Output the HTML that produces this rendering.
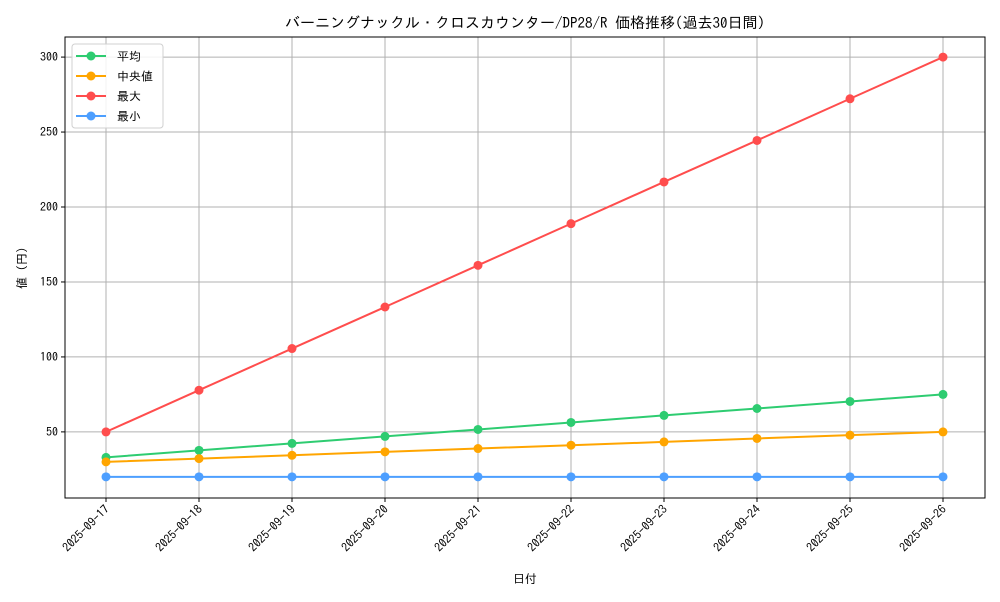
<!DOCTYPE html>
<html><head><meta charset="utf-8"><style>
body{margin:0;background:#fff;font-family:"IPAGothic","Liberation Sans","Noto Sans CJK JP",sans-serif}
svg text{font-family:"IPAGothic","Noto Sans CJK JP",sans-serif;fill:#000}
</style></head><body>
<svg id="chart" width="1000" height="600" xmlns="http://www.w3.org/2000/svg"></svg>
<script>
const dates=["2025-09-17","2025-09-18","2025-09-19","2025-09-20","2025-09-21","2025-09-22","2025-09-23","2025-09-24","2025-09-25","2025-09-26"];
const avgVals=[33,37.7,42.3,47,51.6,56.3,61,65.6,70.3,75];
const medVals=[30,32.2,34.4,36.7,38.9,41.1,43.3,45.6,47.8,50];
const maxVals=[50,77.8,105.6,133.3,161.1,188.9,216.7,244.4,272.2,300];
const minVals=[20,20,20,20,20,20,20,20,20,20];
const yTicks=[50,100,150,200,250,300];
const seriesNames=["平均","中央値","最大","最小"];
const svg=document.getElementById('chart');
const NS="http://www.w3.org/2000/svg";
const L=65,R=985,T=37,B=498;
const yMin=5.9,yMax=313.4;
function x(i){return 106+i*(943-106)/(dates.length-1);}
function y(v){return B-(v-yMin)/(yMax-yMin)*(B-T);}
function mk(tag,attrs,parent){const e=document.createElementNS(NS,tag);for(const k in attrs)e.setAttribute(k,attrs[k]);(parent||svg).appendChild(e);return e;}
// grid
dates.forEach((d,i)=>{
 const g=mk('line',{x1:x(i),x2:x(i),y1:T,y2:B,stroke:'#b0b0b0','stroke-width':1});
 
 
 mk('line',{x1:x(i),x2:x(i),y1:B,y2:B+4,stroke:'#000'});
 const t=mk('text',{x:0,y:0,'font-size':12,'text-anchor':'end',transform:`translate(${x(i)+4},${B+12}) rotate(-45)`});
 t.textContent=d;
 
 
});
yTicks.forEach(v=>{
 const g=mk('line',{x1:L,x2:R,y1:y(v),y2:y(v),stroke:'#b0b0b0','stroke-width':1});
 
 
 mk('line',{x1:L-4,x2:L,y1:y(v),y2:y(v),stroke:'#000'});
 const t=mk('text',{x:L-7,y:y(v)+4,'font-size':12,'text-anchor':'end'});
 t.textContent=v;
 
 
});
const frame=mk('rect',{x:L,y:T,width:R-L,height:B-T,fill:'none',stroke:'#000','stroke-width':1});


const colors=['#2ecc71','#ffa500','#ff4d4d','#4d9fff'];
const data=[avgVals,medVals,maxVals,minVals];
const keys=['avg','median','max','min'];
data.forEach((vals,s)=>{
 const p=mk('polyline',{points:vals.map((v,i)=>x(i)+','+y(v)).join(' '),fill:'none',stroke:colors[s],'stroke-width':2});
 
 
 vals.forEach((v,i)=>{
  const c=mk('circle',{cx:x(i),cy:y(v),r:4.5,fill:colors[s]});
  
  
 });
});
// legend
const lg=mk('g',{});


mk('rect',{x:72,y:44,width:91,height:84,rx:3,fill:'#fff','fill-opacity':0.85,stroke:'#d0d0d0'},lg);
seriesNames.forEach((n,s)=>{
 const yy=56+s*20;
 const e=mk('g',{},lg);
 
 
 mk('line',{x1:76,x2:106,y1:yy,y2:yy,stroke:colors[s],'stroke-width':2},e);
 mk('circle',{cx:91,cy:yy,r:4.5,fill:colors[s]},e);
 const t=mk('text',{x:117,y:yy+4.5,'font-size':12},e);
 t.textContent=n;
});
const title=mk('text',{x:525,y:28,'font-size':15,'text-anchor':'middle'});
title.textContent='バーニングナックル・クロスカウンター/DP28/R 価格推移(過去30日間)';


const xt=mk('text',{x:525,y:583,'font-size':12,'text-anchor':'middle'});
xt.textContent='日付';


const yt=mk('text',{x:0,y:0,'font-size':12,'text-anchor':'middle',transform:'translate(26,268) rotate(-90)'});
yt.textContent='値 (円)';


</script>
</body></html>
